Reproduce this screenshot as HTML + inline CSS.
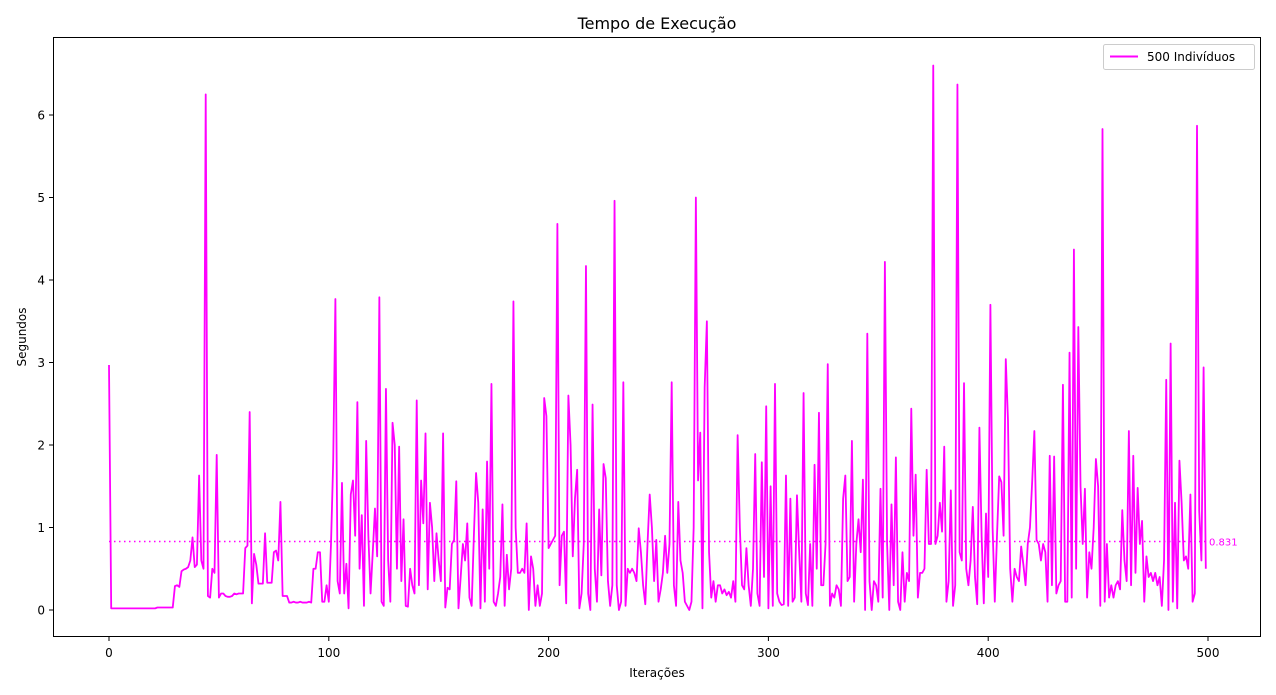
<!DOCTYPE html>
<html><head><meta charset="utf-8"><style>
html,body{margin:0;padding:0;background:#fff;}
svg{display:block;font-family:"DejaVu Sans","Liberation Sans",sans-serif;}
</style></head><body>
<svg id="chart" width="1276" height="695" viewBox="0 0 1276 695" xmlns="http://www.w3.org/2000/svg">
<rect x="0" y="0" width="1276" height="695" fill="#fff"/>
<text x="657" y="29" font-size="16" text-anchor="middle" fill="#000">Tempo de Execução</text>
<g id="marks"></g>
<g id="axes"></g>
<rect x="53.5" y="37.5" width="1207" height="599" fill="none" stroke="#000" stroke-width="1"/>
<text x="657" y="677" font-size="12" text-anchor="middle">Iterações</text>
<text x="0" y="0" font-size="12" text-anchor="middle" transform="translate(26,337) rotate(-90)">Segundos</text>
<g>
<rect x="1103.5" y="44.5" width="151" height="25" rx="2" fill="#fff" stroke="#ccc"/>
<line x1="1110" y1="56.5" x2="1138" y2="56.5" stroke="#ff00ff" stroke-width="2"/>
<text x="1147" y="61" font-size="12">500 Indivíduos</text>
</g>
</svg>
<script>
const seriesLabel = "500 Indivíduos";
const tempos = [
2.97,0.02,0.02,0.02,0.02,0.02,0.02,0.02,0.02,0.02,
0.02,0.02,0.02,0.02,0.02,0.02,0.02,0.02,0.02,0.02,
0.02,0.02,0.03,0.03,0.03,0.03,0.03,0.03,0.03,0.03,
0.29,0.30,0.28,0.47,0.49,0.50,0.52,0.60,0.88,0.52,
0.55,1.63,0.6,0.5,6.25,0.17,0.15,0.5,0.45,1.88,
0.15,0.2,0.2,0.17,0.16,0.16,0.17,0.2,0.19,0.2,
0.2,0.2,0.75,0.78,2.4,0.08,0.68,0.55,0.32,0.32,
0.32,0.93,0.33,0.33,0.33,0.7,0.72,0.6,1.31,0.17,
0.17,0.17,0.09,0.09,0.1,0.09,0.09,0.1,0.09,0.09,
0.09,0.1,0.09,0.5,0.5,0.7,0.7,0.1,0.1,0.3,0.1,
0.8,1.8,3.77,0.35,0.2,1.54,0.2,0.56,0.02,1.4,
1.57,0.9,2.52,0.5,1.15,0.05,2.05,0.9,0.2,0.7,
1.23,0.65,3.79,0.1,0.05,2.68,0.6,0.1,2.27,2.0,
0.5,1.98,0.35,1.1,0.05,0.04,0.5,0.3,0.2,2.54,
0.3,1.57,1.05,2.14,0.25,1.3,1.0,0.35,0.93,0.6,
0.35,2.14,0.03,0.27,0.25,0.8,0.85,1.56,0.02,0.4,0.8,0.6,
1.05,0.15,0.05,0.9,1.66,1.3,0.02,1.22,0.1,1.8,
0.5,2.74,0.1,0.05,0.2,0.4,1.28,0.05,0.67,0.25,
0.5,3.74,1.0,0.45,0.45,0.5,0.45,1.05,0.0,0.65,
0.5,0.05,0.3,0.05,0.2,2.57,2.35,0.75,0.8,0.85,0.9,
4.68,0.3,0.9,0.95,0.08,2.6,2.0,0.65,1.35,1.7,
0.02,0.2,0.8,4.17,0.2,0.0,2.49,0.5,0.1,
1.22,0.42,1.77,1.6,0.35,0.05,0.3,4.96,0.3,0.0,
0.1,2.76,0.05,0.5,0.45,0.5,0.45,0.35,0.99,0.7,
0.3,0.07,0.8,1.4,1.0,0.35,0.85,0.1,0.25,0.45,0.9,
0.45,0.8,2.76,0.3,0.05,1.31,0.6,0.45,0.1,0.05,
0.0,0.1,1.0,5.0,1.57,2.15,0.02,2.7,3.5,0.7,
0.15,0.35,0.1,0.3,0.3,0.2,0.25,0.18,0.22,0.15,
0.35,0.1,2.12,1.0,0.3,0.25,0.75,0.3,0.05,0.5,
1.89,0.2,0.05,1.79,0.4,2.47,0.02,1.5,0.05,2.74,
0.2,0.1,0.06,0.07,1.63,0.05,1.35,0.1,0.15,1.39,0.7,
0.1,2.63,0.2,0.06,0.8,0.05,1.76,0.5,2.39,0.3,
0.3,0.8,2.98,0.05,0.2,0.15,0.3,0.25,0.05,1.35,
1.63,0.35,0.4,2.05,0.1,0.8,1.1,0.7,1.58,0.0,
3.35,0.35,0.0,0.35,0.3,0.1,1.47,0.15,4.22,0.8,
0.0,1.28,0.3,1.85,0.1,0.0,0.7,0.1,0.45,0.35,
2.44,0.9,1.64,0.15,0.45,0.45,0.5,1.7,0.8,0.8,6.6,
0.8,0.9,1.3,0.95,1.98,0.1,0.35,1.45,
0.05,0.3,6.37,0.7,0.6,2.75,0.5,0.3,0.6,1.25,
0.4,0.07,2.21,0.9,0.08,1.17,0.4,3.7,1.0,0.1,
0.9,1.62,1.55,0.9,3.04,2.3,0.5,0.1,0.5,0.4,
0.35,0.77,0.55,0.3,0.8,1.0,1.55,2.17,0.85,0.8,0.6,0.8,
0.7,0.1,1.87,0.3,1.86,0.2,0.3,0.35,2.73,0.1,
0.1,3.12,0.15,4.37,0.5,3.43,1.5,0.8,1.47,0.15,0.7,0.5,
1.0,1.83,1.5,0.05,5.83,0.1,0.8,0.15,0.3,0.15,
0.3,0.35,0.25,1.21,0.6,0.35,2.17,0.3,1.87,0.45,
1.48,0.8,1.08,0.1,0.65,0.4,0.45,0.35,0.45,0.3,0.4,
0.05,0.6,2.79,0.0,3.23,0.1,1.3,0.02,1.81,1.3,
0.6,0.65,0.5,1.4,0.1,0.2,5.87,1.2,0.6,2.94,
0.5
];
const xTicks = [0,100,200,300,400,500];
const yTicks = [0,1,2,3,4,5,6];

const NS = "http://www.w3.org/2000/svg";
const xScale = v => 109 + v * 2.198;
const yScale = v => 610 - v * 82.5;
const marks = document.getElementById('marks');
const axes = document.getElementById('axes');

function mk(tag, attrs, parent){
  const e = document.createElementNS(NS, tag);
  for (const k in attrs) e.setAttribute(k, attrs[k]);
  parent.appendChild(e);
  return e;
}

xTicks.forEach(t => {
  const x = xScale(t);
  const tk = mk('line', {x1:x, y1:637, x2:x, y2:641, stroke:'#000'}, axes);
  
  
  const lb = mk('text', {x:x, y:657, 'font-size':12, 'text-anchor':'middle'}, axes);
  lb.textContent = t;
  
  
});
yTicks.forEach(t => {
  const y = yScale(t);
  const tk = mk('line', {x1:49, y1:y, x2:53, y2:y, stroke:'#000'}, axes);
  
  
  const lb = mk('text', {x:45, y:y+4.5, 'font-size':12, 'text-anchor':'end'}, axes);
  lb.textContent = t;
  
  
});

const pts = tempos.map((v,i) => xScale(i).toFixed(2) + ',' + yScale(v).toFixed(2)).join(' ');
const line = mk('polyline', {points:pts, fill:'none', stroke:'#ff00ff', 'stroke-width':1.8, 'stroke-linejoin':'round'}, marks);



const mean = tempos.reduce((a,b)=>a+b,0) / tempos.length;
const ml = mk('line', {x1:xScale(0), y1:yScale(mean), x2:xScale(500), y2:yScale(mean), stroke:'#ff00ff', 'stroke-width':1.5, 'stroke-dasharray':'1.5,3.5'}, marks);


const mlab = mk('text', {x:xScale(500)+1, y:yScale(mean)+4, 'font-size':10, fill:'#ff00ff'}, marks);
mlab.textContent = mean.toFixed(3);


</script>
</body></html>
